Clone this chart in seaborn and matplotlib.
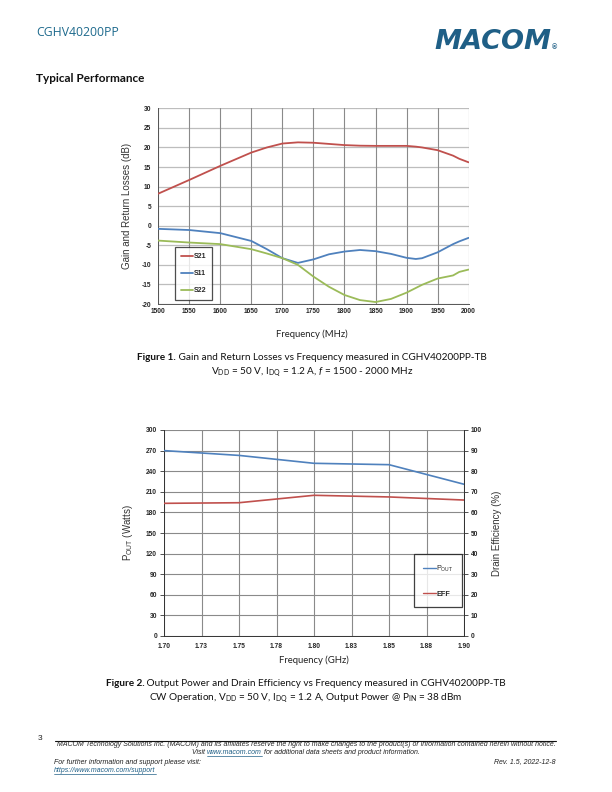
import numpy as np
import pandas as pd
import matplotlib
matplotlib.use("Agg")
import matplotlib.pyplot as plt
import seaborn as sns
from matplotlib.lines import Line2D

# ---------------- data ----------------
freq_mhz = [1500, 1550, 1600, 1650, 1675, 1700, 1725, 1750, 1775, 1800, 1825, 1850,
            1875, 1900, 1915, 1925, 1950, 1975, 1985, 2000]
s21 = [8.2, 11.7, 15.3, 18.7, 20.0, 21.0, 21.3, 21.2, 20.9, 20.6, 20.45, 20.4,
       20.4, 20.4, 20.2, 20.0, 19.3, 17.9, 17.1, 16.2]
s11 = [-0.8, -1.1, -1.9, -3.9, -6.0, -8.3, -9.5, -8.6, -7.3, -6.6, -6.2, -6.5,
       -7.2, -8.2, -8.5, -8.3, -6.8, -4.7, -4.0, -3.1]
s22 = [-3.8, -4.3, -4.7, -6.0, -7.1, -8.3, -10.0, -13.0, -15.6, -17.7, -19.0, -19.5,
       -18.7, -17.1, -15.9, -15.1, -13.5, -12.7, -11.8, -11.2]

freq_ghz = [1.70, 1.75, 1.80, 1.85, 1.90]
pout_w = [270, 263, 251.5, 249.5, 221]
eff_pct = [64.4, 64.7, 68.3, 67.5, 66.0]

x1_ticks = list(range(1500, 2001, 50))
y1_ticks = list(range(-20, 31, 5))
x2_ticks = [1.700, 1.725, 1.750, 1.775, 1.800, 1.825, 1.850, 1.875, 1.900]
x2_labels = ["1.70", "1.73", "1.75", "1.78", "1.80", "1.83", "1.85", "1.88", "1.90"]
y2l_ticks = list(range(0, 301, 30))
y2r_ticks = list(range(0, 101, 10))

C_RED = "#C0504D"
C_BLUE = "#4F81BD"
C_GREEN = "#9BBB59"
C_TEAL = "#1F5F86"

sns.set_style("white")
plt.rcParams["font.family"] = ["Liberation Sans", "DejaVu Sans"]
plt.rcParams["mathtext.fontset"] = "custom"
plt.rcParams["mathtext.rm"] = "Lato"
plt.rcParams["mathtext.it"] = "Lato:italic"
plt.rcParams["mathtext.bf"] = "Lato:bold"

fig = plt.figure(figsize=(6.12, 7.92), dpi=100)
W, H = 612.0, 792.0
renderer = fig.canvas.get_renderer()

def ax_rect(l, t, r, b):
    return [l / W, 1 - b / H, (r - l) / W, (b - t) / H]

def style_grid(ax):
    ax.grid(False)
    for sp in ax.spines.values():
        sp.set_visible(False)

def text_row(xc, y, parts, **common):
    """Place a row of text pieces centered at xc (pixels); parts = list of (text, kwargs)."""
    objs = []
    for s, kw in parts:
        k = dict(common)
        k.update(kw)
        objs.append(fig.text(0, 1 - y / H, s, ha="left", va="center", **k))
    widths = [o.get_window_extent(renderer).width for o in objs]
    total = sum(widths)
    x = xc - total / 2
    for o, w in zip(objs, widths):
        o.set_x(x / W)
        x += w
    return objs

tick_kw = dict(labelsize=4.8, length=3, width=0.6, color="#333333", pad=2)

# ---------------- chart 1 ----------------
ax1 = fig.add_axes(ax_rect(158.3, 108.3, 468.6, 304))
df1 = pd.DataFrame({"Frequency": freq_mhz * 3,
                    "dB": s21 + s11 + s22,
                    "Trace": ["S21"] * len(freq_mhz) + ["S11"] * len(freq_mhz) + ["S22"] * len(freq_mhz)})
style_grid(ax1)
for yv in y1_ticks:
    ax1.axhline(yv, color="#BDBDBD", lw=0.9, zorder=0)
for xv in x1_ticks:
    ax1.axvline(xv, color="#8A8A8A", lw=0.8, zorder=0)
sns.lineplot(data=df1, x="Frequency", y="dB", hue="Trace",
             palette={"S21": C_RED, "S11": C_BLUE, "S22": C_GREEN},
             hue_order=["S21", "S11", "S22"], lw=1.3, ax=ax1, legend=False, zorder=3)
ax1.set_xlim(1500, 2000)
ax1.set_ylim(-20, 30)
ax1.set_xticks(x1_ticks)
ax1.set_yticks(y1_ticks)
ax1.set_yticklabels([str(v) for v in y1_ticks])
for s in ["left", "bottom"]:
    ax1.spines[s].set_visible(True)
    ax1.spines[s].set_color("#555555")
    ax1.spines[s].set_linewidth(0.7)
ax1.tick_params(axis="both", which="both", direction="out", **tick_kw)
ax1.tick_params(axis="x", length=0, pad=3)
for lab in ax1.get_xticklabels() + ax1.get_yticklabels():
    lab.set_fontweight("bold")
ax1.set_xlabel("")
ax1.set_ylabel("")

h1 = [Line2D([], [], color=C_RED, lw=1.3),
      Line2D([], [], color=C_BLUE, lw=1.3),
      Line2D([], [], color=C_GREEN, lw=1.3)]
leg1 = ax1.legend(h1, ["S21", "S11", "S22"], loc="lower left",
                  bbox_to_anchor=((175 - 158.3) / 310.3, (304 - 300) / 195.7),
                  prop={"size": 5, "weight": "bold"}, frameon=True, fancybox=False,
                  handlelength=1.7, handletextpad=0.1, labelspacing=1.45,
                  borderpad=0.85, borderaxespad=0)
leg1.get_frame().set_edgecolor("#222222")
leg1.get_frame().set_linewidth(0.9)

fig.text(127 / W, 1 - 206 / H, "Gain and Return Losses (dB)", rotation=90,
         ha="center", va="center", fontsize=7, color="#333333")
fig.text(312 / W, 1 - 334 / H, "Frequency (MHz)", ha="center", va="center",
         fontsize=6.8, color="#222222", family=["Lato", "DejaVu Sans"])

# ---------------- chart 2 ----------------
ax2 = fig.add_axes(ax_rect(164, 430, 464, 636))
style_grid(ax2)
for yv in y2l_ticks:
    ax2.axhline(yv, color="#8A8A8A", lw=0.8, zorder=0)
for xv in x2_ticks:
    ax2.axvline(xv, color="#8A8A8A", lw=0.8, zorder=0)
df2 = pd.DataFrame({"Frequency": freq_ghz, "Pout": pout_w, "Eff": eff_pct})
sns.lineplot(data=df2, x="Frequency", y="Pout", color=C_BLUE, lw=1.2, ax=ax2, zorder=3)
ax2.set_xlim(1.70, 1.90)
ax2.set_ylim(0, 300)
ax2.set_xticks(x2_ticks)
ax2.set_xticklabels(x2_labels)
ax2.set_yticks(y2l_ticks)
ax2.set_xlabel("")
ax2.set_ylabel("")
for s in ["left", "bottom", "right"]:
    ax2.spines[s].set_visible(True)
    ax2.spines[s].set_color("#333333")
    ax2.spines[s].set_linewidth(0.7)
ax2.tick_params(axis="both", direction="out", **tick_kw)
for lab in ax2.get_xticklabels() + ax2.get_yticklabels():
    lab.set_fontweight("bold")

ax2r = ax2.twinx()
sns.lineplot(data=df2, x="Frequency", y="Eff", color=C_RED, lw=1.2, ax=ax2r, zorder=3)
ax2r.set_ylim(0, 100)
ax2r.set_yticks(y2r_ticks)
ax2r.set_ylabel("")
ax2r.grid(False)
for s in ["left", "top", "bottom"]:
    ax2r.spines[s].set_visible(False)
ax2r.spines["right"].set_color("#333333")
ax2r.spines["right"].set_linewidth(0.7)
ax2r.tick_params(axis="y", direction="out", **tick_kw)
for lab in ax2r.get_yticklabels():
    lab.set_fontweight("bold")

h2 = [Line2D([], [], color=C_BLUE, lw=1.0), Line2D([], [], color=C_RED, lw=1.0)]
leg2 = ax2r.legend(h2, [r"P$_{\mathregular{OUT}}$", "EFF"], loc="lower left",
                   bbox_to_anchor=((414 - 164) / 300.0, (636 - 607) / 206.0),
                   prop={"size": 5.2}, frameon=True, fancybox=False,
                   handlelength=1.8, handletextpad=0.0, labelspacing=2.4,
                   borderpad=1.25, borderaxespad=0)
leg2.get_frame().set_edgecolor("#111111")
leg2.get_frame().set_linewidth(0.9)
leg2.get_texts()[1].set_fontweight("bold")

fig.text(128 / W, 1 - 533 / H, r"P$_{\mathregular{OUT}}$ (Watts)", rotation=90,
         ha="center", va="center", fontsize=7, color="#333333")
fig.text(497 / W, 1 - 533 / H, "Drain Efficiency (%)", rotation=90,
         ha="center", va="center", fontsize=7, color="#333333")
fig.text(314 / W, 1 - 660 / H, "Frequency (GHz)", ha="center", va="center",
         fontsize=6.8, color="#222222", family=["Lato", "DejaVu Sans"])

# ---------------- page texts ----------------
cap_fam = ["Lato", "DejaVu Sans"]
fig.text(36 / W, 1 - 32 / H, "CGHV40200PP", ha="left", va="center", fontsize=8.8,
         color="#1E6A8D", family=["Open Sans", "DejaVu Sans"])
fig.text(551 / W, 1 - 42 / H, "MACOM", ha="right", va="center", fontsize=19.5,
         color=C_TEAL, fontweight="bold", style="italic", family=["DejaVu Sans"])
fig.text(555 / W, 1 - 48 / H, "®", ha="center", va="center", fontsize=5, color=C_TEAL,
         fontweight="bold")
fig.text(36 / W, 1 - 79 / H, "Typical Performance", ha="left", va="center", fontsize=8.5,
         fontweight="bold", family=cap_fam, color="#111111")

cap = dict(fontsize=7.2, family=cap_fam, color="#111111")
text_row(312, 358, [("Figure 1.", {"fontweight": "bold"}),
                    (" Gain and Return Losses vs Frequency measured in CGHV40200PP-TB", {})], **cap)
fig.text(312 / W, 1 - 372 / H,
         r"V$_{\mathregular{DD}}$ = 50 V, I$_{\mathregular{DQ}}$ = 1.2 A, $\it{f}$ = 1500 - 2000 MHz",
         ha="center", va="center", **cap)
text_row(306, 684, [("Figure 2.", {"fontweight": "bold"}),
                    (" Output Power and Drain Efficiency vs Frequency measured in CGHV40200PP-TB", {})], **cap)
fig.text(306 / W, 1 - 698 / H,
         r"CW Operation, V$_{\mathregular{DD}}$ = 50 V, I$_{\mathregular{DQ}}$ = 1.2 A, Output Power @ P$_{\mathregular{IN}}$ = 38 dBm",
         ha="center", va="center", **cap)

# footer
fig.text(38 / W, 1 - 738 / H, "3", ha="left", va="center", fontsize=6, color="#222222")
fig.add_artist(Line2D([55 / W, 556 / W], [1 - 741 / H, 1 - 741 / H], color="#111111", lw=0.8))
foot_kw = dict(fontsize=5.05, style="italic", color="#222222")
fig.text(306 / W, 1 - 745 / H,
         "MACOM Technology Solutions Inc. (MACOM) and its affiliates reserve the right to make changes to the product(s) or information contained herein without notice.",
         ha="center", va="center", **foot_kw)
row = text_row(306, 753, [("Visit ", {}),
                          ("www.macom.com", {"color": "#1F5F86"}),
                          (" for additional data sheets and product information.", {})], **foot_kw)
bb = row[1].get_window_extent(renderer)
fig.add_artist(Line2D([bb.x0 / W, bb.x1 / W], [1 - 756 / H, 1 - 756 / H], color="#1F5F86", lw=0.5))
fig.text(54 / W, 1 - 762 / H, "For further information and support please visit:",
         ha="left", va="center", **foot_kw)
fig.text(556 / W, 1 - 762 / H, "Rev. 1.5, 2022-12-8", ha="right", va="center", **foot_kw)
t_url = fig.text(54 / W, 1 - 771 / H, "https://www.macom.com/support", ha="left", va="center",
                 fontsize=5.05, style="italic", color="#1F5F86")
bb2 = t_url.get_window_extent(renderer)
fig.add_artist(Line2D([bb2.x0 / W, bb2.x1 / W], [1 - 774 / H, 1 - 774 / H], color="#1F5F86", lw=0.5))

fig.savefig("out.png", dpi=100)
